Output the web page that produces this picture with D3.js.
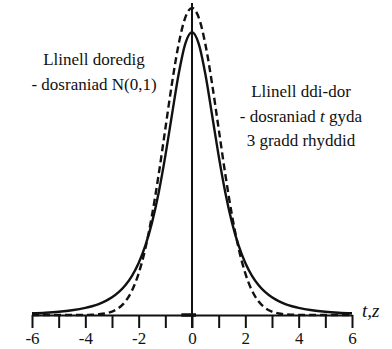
<!DOCTYPE html>
<html><head><meta charset="utf-8">
<script src="https://cdn.jsdelivr.net/npm/d3@7/dist/d3.min.js"></script>
</head><body style="margin:0;background:#fff">
<svg id="c" width="392" height="349" style="display:block"></svg>
<script>
const xValues = [-6,-5.5,-5,-4.5,-4,-3.75,-3.5,-3.25,-3,-2.75,-2.5,-2.25,-2,-1.75,-1.5,-1.25,-1,-0.75,-0.5,-0.25,0,0.25,0.5,0.75,1,1.25,1.5,1.75,2,2.25,2.5,2.75,3,3.25,3.5,3.75,4,4.5,5,5.5,6];
const normalValues = [0,0,0,0,0.0001,0.0004,0.0009,0.0020,0.0044,0.0091,0.0175,0.0317,0.0540,0.0863,0.1295,0.1826,0.2420,0.3011,0.3521,0.3867,0.3989,0.3867,0.3521,0.3011,0.2420,0.1826,0.1295,0.0863,0.0540,0.0317,0.0175,0.0091,0.0044,0.0020,0.0009,0.0004,0.0001,0,0,0,0];
const tValues = [0.0022,0.0030,0.0042,0.0061,0.0092,0.0114,0.0142,0.0180,0.0230,0.0297,0.0387,0.0509,0.0675,0.0900,0.1200,0.1589,0.2067,0.2606,0.3132,0.3527,0.3676,0.3527,0.3132,0.2606,0.2067,0.1589,0.1200,0.0900,0.0675,0.0509,0.0387,0.0297,0.0230,0.0180,0.0142,0.0114,0.0092,0.0061,0.0042,0.0030,0.0022];
const tickValues = [-6,-5,-4,-3,-2,-1,0,1,2,3,4,5,6];
const tickLabels = ["-6","","-4","","-2","","0","","2","","4","","6"];
const leftLabel = ["Llinell doredig","- dosraniad N(0,1)"];
const axisTitle = "t,z";
const FONT = "Liberation Serif, Tinos, Times New Roman, serif";

const svg = d3.select("#c");
const x = d3.scaleLinear().domain([-6,6]).range([32,352]);
const y = d3.scaleLinear().domain([0,0.3989]).range([315,8]);

// axis
const axis = d3.axisBottom(x).tickValues(tickValues).tickSize(13).tickSizeOuter(0)
  .tickFormat((d,i)=>tickLabels[i]);
const g = svg.append("g").attr("transform","translate(0,315)").call(axis);
g.attr("font-family",FONT).attr("font-size",17);
g.select(".domain").attr("stroke","#111").attr("stroke-width",2);
g.selectAll(".tick line").attr("stroke","#111").attr("stroke-width",2);
g.selectAll(".tick text").attr("y",29).attr("dy",0)
  .attr("font-family",FONT).attr("font-size",17).attr("fill","#111");
svg.append("line").attr("x1",x(-0.4)).attr("x2",x(0.15)).attr("y1",315).attr("y2",315)
  .attr("stroke","#111").attr("stroke-width",3.5);

// vertical line at 0
svg.append("line").attr("x1",x(0)).attr("x2",x(0)).attr("y1",3).attr("y2",328)
  .attr("stroke","#111").attr("stroke-width",2);

const line = d3.line().x((d,i)=>x(xValues[i])).y(d=>y(d)).curve(d3.curveMonotoneX);
svg.append("path").attr("d",line(normalValues)).attr("fill","none")
  .attr("stroke","#111").attr("stroke-width",2.4).attr("stroke-dasharray","7,4");
svg.append("path").attr("d",line(tValues)).attr("fill","none")
  .attr("stroke","#111").attr("stroke-width",2.4);

// labels
const lt = svg.append("text").attr("text-anchor","middle").attr("font-family",FONT).attr("font-size",17).attr("fill","#111");
lt.append("tspan").attr("x",94).attr("y",65).text(leftLabel[0]);
lt.append("tspan").attr("x",94).attr("y",90).text(leftLabel[1]);

const rt = svg.append("text").attr("text-anchor","middle").attr("font-family",FONT).attr("font-size",17).attr("fill","#111");
rt.append("tspan").attr("x",301).attr("y",97).text("Llinell ddi-dor");
const r2 = rt.append("tspan").attr("x",301).attr("y",122);
r2.append("tspan").text("- dosraniad ");
r2.append("tspan").attr("font-style","italic").text("t");
r2.append("tspan").text(" gyda");
rt.append("tspan").attr("x",301).attr("y",146).text("3 gradd rhyddid");

svg.append("text").attr("x",362).attr("y",317).attr("font-family",FONT).attr("font-size",19)
  .attr("font-style","italic").attr("fill","#111").text(axisTitle);
</script></body></html>
